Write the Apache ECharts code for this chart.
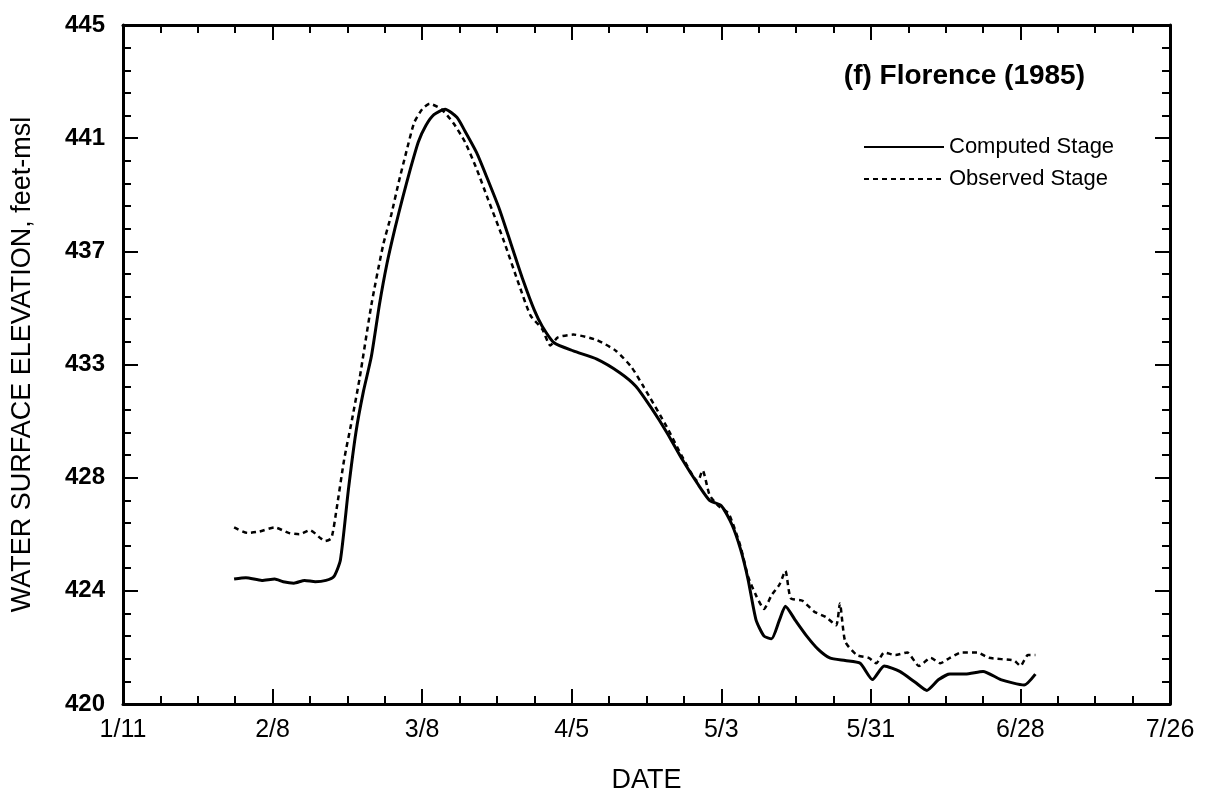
<!DOCTYPE html>
<html>
<head>
<meta charset="utf-8">
<script src="https://cdn.jsdelivr.net/npm/echarts@6/dist/echarts.min.js"></script>
<style>
  html, body { margin: 0; padding: 0; background: #fff; }
  #chart { width: 1215px; height: 799px; }
</style>
</head>
<body>
<div id="chart"></div>
<script>
// days after 1/11/1985, stage in feet-msl
var computedDays = [20.8, 23, 26, 28.4, 30, 32, 34, 36, 38, 39.5, 40.7, 42.2, 43.6, 45, 46.5, 48, 49.4, 50.9, 52.3, 53.8, 55.3, 56.7, 58.2, 60.3, 62.5, 64, 66.2, 68.3, 70.5, 72.7, 74.9, 77, 78.5, 80.7, 84.3, 88.7, 93, 96, 98.9, 101.8, 104.7, 107.6, 109.8, 112, 114, 115.6, 117, 118.5, 120, 121.4, 122.9, 124, 125.8, 128, 130.2, 132.3, 135.2, 138, 140.3, 142.5, 145.4, 148.3, 150.5, 152.7, 154.8, 157.7, 161, 164.3, 168.7, 170.8];
var computedStage = [424.6, 424.65, 424.55, 424.6, 424.5, 424.45, 424.55, 424.5, 424.55, 424.7, 425.3, 427.9, 430.0, 431.5, 432.8, 434.7, 436.2, 437.5, 438.6, 439.7, 440.7, 441.3, 441.7, 441.9, 441.6, 441.1, 440.3, 439.3, 438.2, 436.9, 435.6, 434.5, 433.9, 433.3, 433.0, 432.7, 432.2, 431.7, 430.9, 430.0, 429.0, 428.1, 427.5, 427.3, 426.6, 425.7, 424.6, 423.1, 422.5, 422.4, 423.1, 423.6, 423.1, 422.5, 422.0, 421.7, 421.6, 421.5, 420.9, 421.4, 421.2, 420.8, 420.5, 420.9, 421.1, 421.1, 421.2, 420.9, 420.7, 421.1];

var observedDays = [20.8, 23.3, 25.5, 28.4, 31, 33, 35, 37, 37.8, 39, 40, 41.4, 42.9, 44.3, 46.5, 48.7, 50.2, 51.6, 53, 54.5, 56, 57.4, 59.6, 61.8, 64, 66.2, 68.3, 71.2, 74.2, 76.3, 78.5, 80, 81.4, 84.3, 88.7, 92.3, 95.2, 97.4, 101.8, 104.7, 107.6, 108.5, 109.8, 111.4, 113.4, 115.6, 117, 118.5, 120, 121.4, 122.9, 124, 125, 127.2, 129.4, 131.6, 133.5, 134.2, 135.2, 137.4, 139.6, 141, 142.5, 144.6, 146.8, 149, 151.2, 153, 154.8, 157, 159.9, 162.1, 166.8, 168, 169.4, 170.8];
var observedStage = [426.5, 426.3, 426.35, 426.5, 426.3, 426.25, 426.4, 426.1, 426.0, 426.1, 427.2, 429.0, 430.5, 432.0, 434.7, 436.9, 438.0, 439.2, 440.3, 441.4, 441.9, 442.1, 441.9, 441.4, 440.7, 439.7, 438.6, 437.1, 435.4, 434.3, 433.8, 433.2, 433.5, 433.6, 433.4, 433.0, 432.4, 431.7, 430.2, 429.1, 428.2, 428.6, 427.7, 427.3, 427.0, 425.8, 424.7, 424.0, 423.5, 424.0, 424.4, 424.9, 423.9, 423.8, 423.4, 423.2, 422.9, 423.7, 422.3, 421.8, 421.7, 421.5, 421.9, 421.8, 421.9, 421.4, 421.7, 421.5, 421.7, 421.9, 421.9, 421.7, 421.6, 421.4, 421.8, 421.8];

var xTickDays = [0, 28, 56, 84, 112, 140, 168, 196];
var yTickLabels = [420, 424, 428, 433, 437, 441, 445];

var seriesNames = ['Computed Stage', 'Observed Stage'];
var chartTitle = '(f) Florence (1985)';
var yName = 'WATER SURFACE ELEVATION, feet-msl';
var xName = 'DATE';

(function() {
  var ink = '#000';
  var font = '"Liberation Sans", Arial, Helvetica, sans-serif';

  // y range 420..445 split in 6 equal steps; plot in step units so ticks land evenly
  var yBase = 420, yStep = 25 / 6;
  function toY(v) { return (v - yBase) / yStep; }
  function pairs(xs, ys) {
    return xs.map(function(x, i) { return [x, toY(ys[i])]; });
  }
  function dateLabel(v) {
    var d = new Date(1985, 0, 11 + Math.round(v));
    return (d.getMonth() + 1) + '/' + d.getDate();
  }

  var chart = echarts.init(document.getElementById('chart'), null, { renderer: 'canvas' });

  var baseX = {
    type: 'value',
    min: xTickDays[0],
    max: xTickDays[xTickDays.length - 1],
    interval: 28,
    axisLine: { show: true, onZero: false, lineStyle: { color: ink, width: 3 } },
    axisTick: { show: true, inside: true, length: 15, lineStyle: { color: ink, width: 2 } },
    minorTick: { show: true, splitNumber: 4, length: 8, lineStyle: { color: ink, width: 2 } },
    splitLine: { show: false },
    minorSplitLine: { show: false }
  };
  var baseY = {
    type: 'value',
    min: 0,
    max: 6,
    interval: 1,
    axisLine: { show: true, onZero: false, lineStyle: { color: ink, width: 3 } },
    axisTick: { show: true, inside: true, length: 15, lineStyle: { color: ink, width: 2 } },
    minorTick: { show: true, splitNumber: 5, length: 8, lineStyle: { color: ink, width: 2 } },
    splitLine: { show: false },
    minorSplitLine: { show: false }
  };

  chart.setOption({
    animation: false,
    backgroundColor: '#fff',
    textStyle: { fontFamily: font, color: ink },
    title: {
      text: chartTitle,
      right: 125,
      top: 57,
      textStyle: { fontFamily: font, fontSize: 28, fontWeight: 'bold', color: ink }
    },
    legend: {
      data: seriesNames,
      orient: 'vertical',
      left: 858,
      top: 131,
      itemWidth: 80,
      itemHeight: 14,
      itemGap: 10,
      itemStyle: { opacity: 0 },
      textStyle: { fontFamily: font, fontSize: 22, color: ink, lineHeight: 22 }
    },
    grid: { left: 123, right: 45, top: 25, bottom: 94 },
    xAxis: [
      Object.assign({}, baseX, {
        position: 'bottom',
        name: xName,
        nameLocation: 'middle',
        nameGap: 63,
        nameTextStyle: { fontFamily: font, fontSize: 27, color: ink },
        axisLabel: {
          show: true, margin: 14, fontSize: 25, color: ink, fontFamily: font,
          showMinLabel: true, showMaxLabel: true,
          formatter: dateLabel
        }
      }),
      Object.assign({}, baseX, { position: 'top', axisLabel: { show: false } })
    ],
    yAxis: [
      Object.assign({}, baseY, {
        position: 'left',
        name: yName,
        nameLocation: 'middle',
        nameGap: 87,
        nameTextStyle: { fontFamily: font, fontSize: 27, color: ink },
        axisLabel: {
          show: true, margin: 18, fontSize: 24, fontWeight: 'bold', color: ink, fontFamily: font,
          showMinLabel: true, showMaxLabel: true,
          formatter: function(v) { return yTickLabels[Math.round(v)]; }
        }
      }),
      Object.assign({}, baseY, { position: 'right', axisLabel: { show: false } })
    ],
    series: [
      {
        name: seriesNames[0],
        type: 'line',
        xAxisIndex: 0,
        yAxisIndex: 0,
        data: pairs(computedDays, computedStage),
        symbol: 'none',
        smooth: 0.2,
        lineStyle: { color: ink, width: 3, type: 'solid' },
        itemStyle: { color: ink }
      },
      {
        name: seriesNames[1],
        type: 'line',
        xAxisIndex: 0,
        yAxisIndex: 0,
        data: pairs(observedDays, observedStage),
        symbol: 'none',
        smooth: 0.2,
        lineStyle: { color: ink, width: 2.5, type: [5, 4] },
        itemStyle: { color: ink }
      }
    ]
  });

  window.addEventListener('resize', function() { chart.resize(); });
})();
</script>
</body>
</html>
